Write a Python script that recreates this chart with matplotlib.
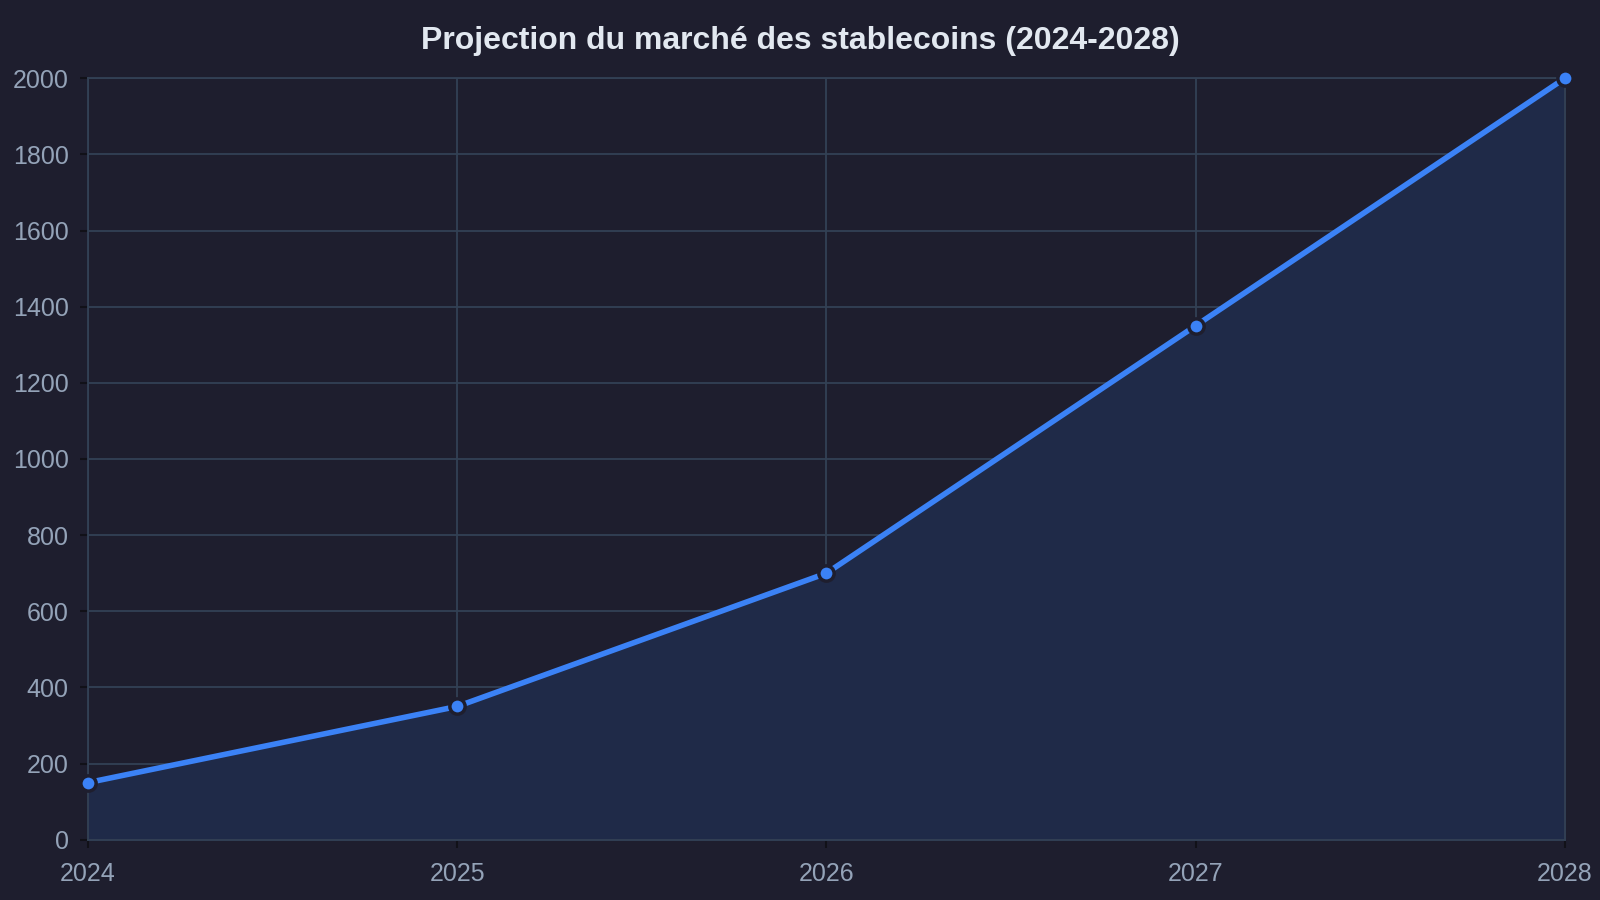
import matplotlib
matplotlib.use("Agg")
import matplotlib.pyplot as plt

# data
years = [2024, 2025, 2026, 2027, 2028]
market = [150, 350, 700, 1350, 2000]
y_ticks = list(range(0, 2001, 200))

BG = "#1e1e2e"
GRID = "#334155"
LINE = "#3b82f6"
TICK_TXT = "#94a3b8"
TITLE_TXT = "#e2e8f0"

plt.rcParams["font.family"] = ["Liberation Sans", "DejaVu Sans"]

fig = plt.figure(figsize=(16, 9), dpi=100, facecolor=BG)
ax = fig.add_axes([0.055, 0.067, 0.923, 0.846])
ax.set_facecolor(BG)

ax.fill_between(years, market, 0, color="#1f2a48", alpha=1.0, zorder=1)
ax.plot(years, market, color=LINE, lw=4, zorder=3, clip_on=False,
        marker="o", ms=11, mfc=LINE, mec=BG, mew=2.5)

ax.set_xlim(2024, 2028)
ax.set_ylim(0, 2000)
ax.set_xticks(years)
ax.set_yticks(y_ticks)
ax.grid(True, color=GRID, lw=1.3, zorder=0)
ax.set_axisbelow(True)

for side in ["top", "right", "left", "bottom"]:
    ax.spines[side].set_color(GRID)
    ax.spines[side].set_linewidth(1.3)

ax.tick_params(colors="#111118", length=6, width=1.5, labelsize=18,
               labelcolor=TICK_TXT)
ax.tick_params(axis="y", pad=8)
ax.tick_params(axis="x", pad=10)

# title is centred on the whole figure, not on the axes
fig.suptitle("Projection du marché des stablecoins (2024-2028)",
             color=TITLE_TXT, fontsize=23, fontweight="bold", x=0.5, y=0.971)

fig.savefig("out.png", dpi=100, facecolor=BG)
